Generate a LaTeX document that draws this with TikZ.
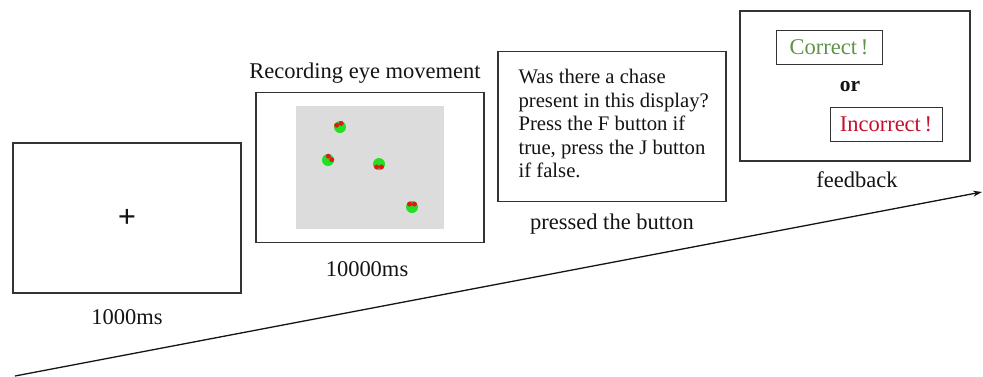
\documentclass[tikz,border=0pt]{standalone}
\usepackage{fontspec}
\setmainfont{Liberation Serif}
\usepackage{tikz}
\usetikzlibrary{positioning,arrows.meta}
\definecolor{ink}{HTML}{141414}
\definecolor{frame}{HTML}{333333}
\definecolor{stage}{HTML}{DCDCDC}
\definecolor{okgreen}{HTML}{5E9447}
\definecolor{badred}{HTML}{C8102E}
\definecolor{dotgreen}{HTML}{22E022}
\definecolor{dotred}{HTML}{E01A1A}
\tikzset{
  screen/.style={rectangle,draw=frame,line width=1.3pt,fill=white,
    minimum width=228pt,minimum height=150pt,inner sep=0pt},
  fb/.style={rectangle,draw=frame,line width=1pt,inner sep=0pt,
    minimum height=34pt,font=\fontsize{22.5}{26}\selectfont},
  lbl/.style={inner sep=0pt,text=ink,font=\fontsize{22.5}{26}\selectfont},
  qtext/.style={inner sep=0pt,align=left,text=ink,
    font=\fontsize{20.7}{23.5}\selectfont},
  dot/.style={circle,fill=dotgreen,minimum size=12pt,inner sep=0pt},
  ar/.style={-{Stealth[length=9pt,width=6pt]},line width=1.3pt,draw=ink},
}

\begin{document}
\begin{tikzpicture}[x=1pt,y=-1pt]
  \useasboundingbox (0,0) rectangle (983,376);
  % time line
  \coordinate (tstart) at (15,376);
  \coordinate (tend) at (982,192);
  \draw[ar] (tstart) -- (tend);

  % the four screens
  \node[screen] (fix) at (127,218) {};
  \node[screen] (rec) at (370,167.5) {};
  \node[screen] (resp) at (612,126.5) {};
  \node[screen,minimum width=230pt] (feed) at (855,86) {};

  \node[font={\fontsize{32}{32}\selectfont\bfseries},text=ink,inner sep=0pt] (cross) at (fix) {+};

  \node[fill=stage,minimum width=148pt,minimum height=123pt,inner sep=0pt] (stage) at (370,167.5) {};
  \foreach \px/\py/\hd [count=\i] in {340/127/248, 328/160/315, 379/164/90, 412/207/270} {
    \node[dot] (d\i) at (\px,\py) {};
    \fill[dotred] ([shift={(\hd-40:3.8)}]d\i.center) circle (2.5pt);
    \fill[dotred] ([shift={(\hd+40:3.8)}]d\i.center) circle (2.5pt);
  }

  \node[qtext,anchor=west] (quest) at ([xshift=21pt,yshift=3pt]resp.west)
    {Was there a chase\\present in this display?\\Press the F button if\\true, press the J button\\if false.};

  \node[fb,text=okgreen,minimum width=106pt] (ok) at (829,47) {Correct\,!};
  \node[lbl,font={\fontsize{21.5}{26}\selectfont\bfseries}] (or) at (850,87) {or};
  \node[fb,text=badred,minimum width=112pt] (bad) at (886,124) {Incorrect\,!};

  % captions
  \node[lbl,below=16pt of fix] (t1) {1000ms};
  \node[lbl,above=8pt of rec,xshift=-5pt] (t2) {Recording eye movement};
  \node[lbl,below=18pt of rec,xshift=-3pt] (t3) {10000ms};
  \node[lbl,below=12pt of resp] (t4) {pressed the button};
  \node[lbl,below=10pt of feed,xshift=2pt] (t5) {feedback};
\end{tikzpicture}
\end{document}
